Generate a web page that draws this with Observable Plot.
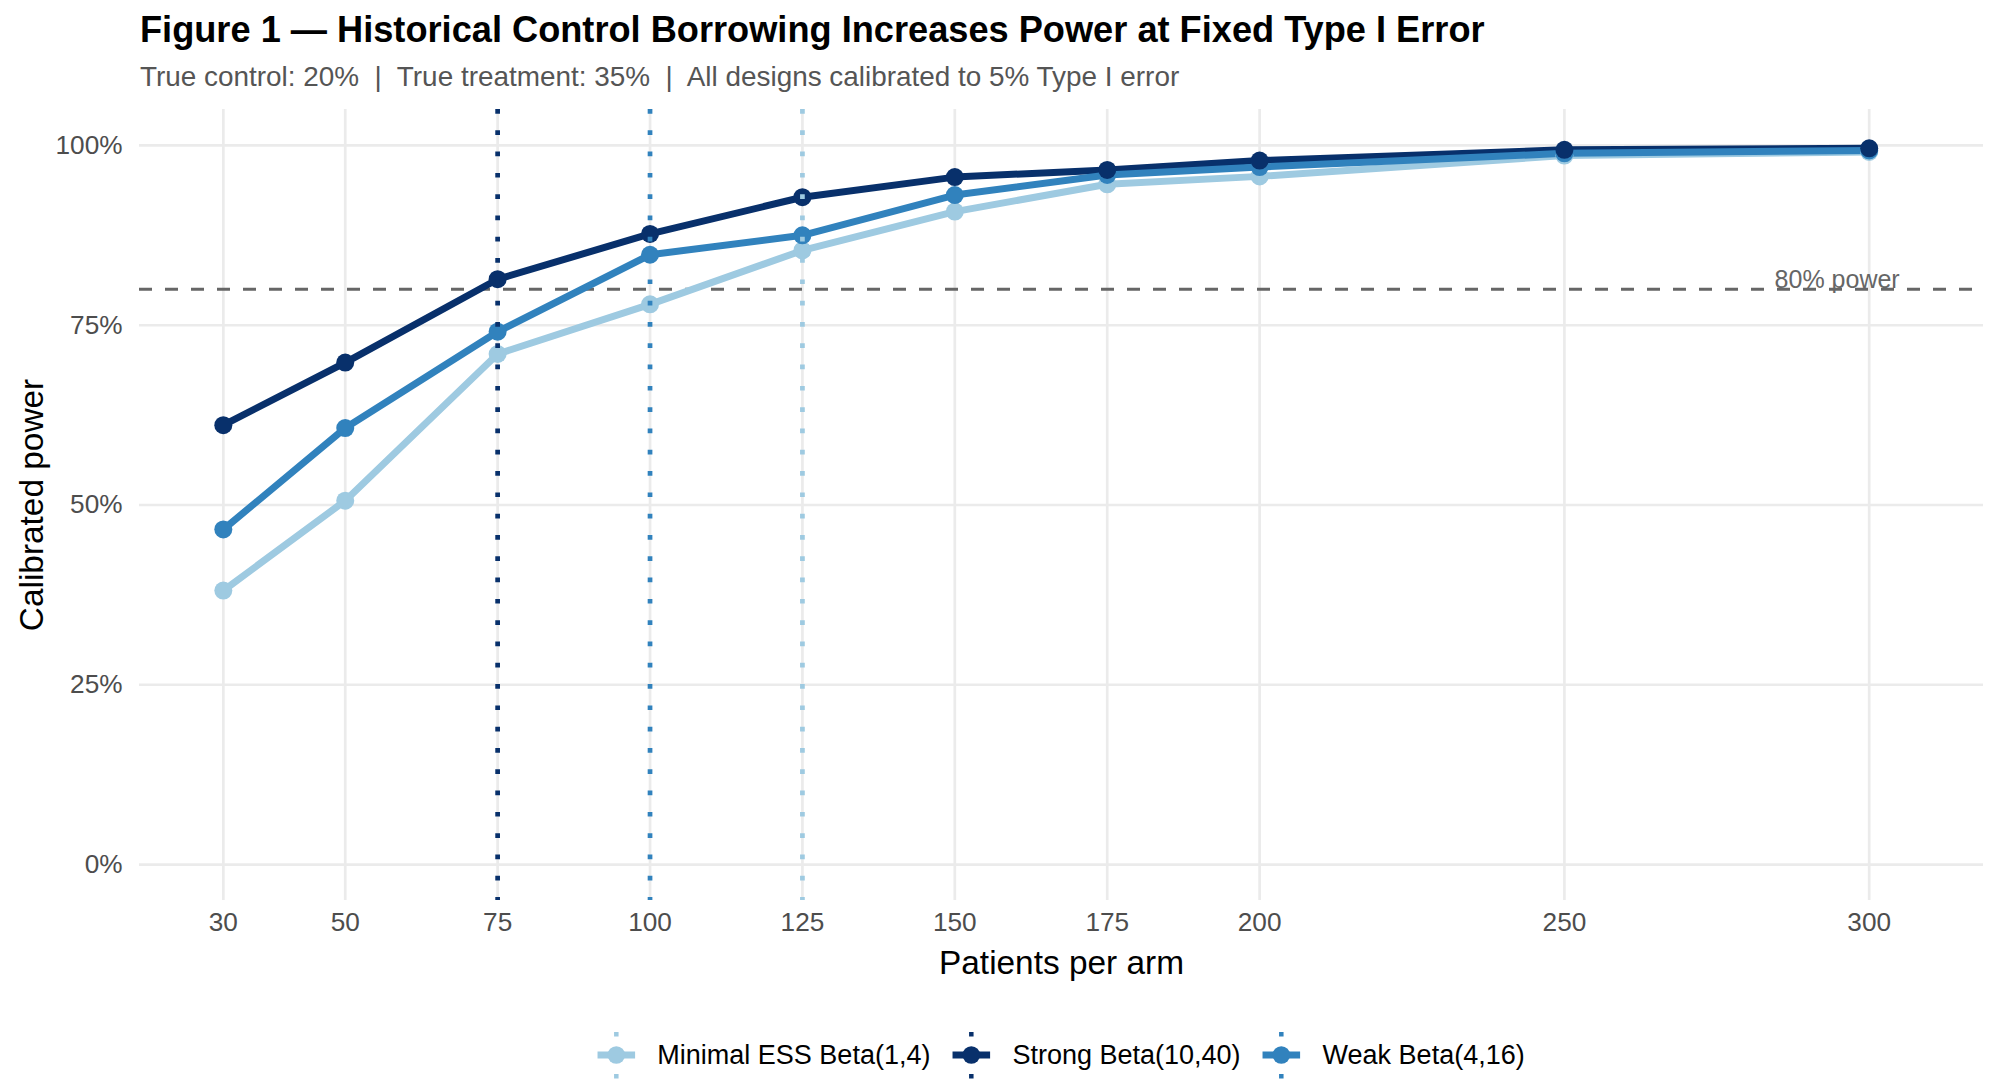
<!DOCTYPE html>
<html><head><meta charset="utf-8">
<script src="https://cdn.jsdelivr.net/npm/d3@7"></script>
<script src="https://cdn.jsdelivr.net/npm/@observablehq/plot@0.6"></script>
<style>
html,body{margin:0;padding:0;background:#fff;}
#wrap{position:relative;width:2000px;height:1090px;overflow:hidden;font-family:"Liberation Sans",Arial,Helvetica,sans-serif;background:#fff;}
#title{position:absolute;left:140px;top:12px;font-size:36.2px;font-weight:bold;line-height:1;color:#000;white-space:nowrap;}
#subtitle{position:absolute;left:140px;top:63px;font-size:27.9px;line-height:1;color:#555;white-space:pre;}
#chart{position:absolute;left:0;top:100px;}
#legend{position:absolute;top:1027px;left:1061px;transform:translateX(-50%);display:flex;align-items:center;height:56px;white-space:nowrap;}
.item{display:flex;align-items:center;}
.item + .item{margin-left:22px;}
.item svg{display:block;}
.lab{margin-left:22px;font-size:27px;color:#000;}
</style></head><body>
<div id="wrap">
  <div id="title"></div>
  <div id="subtitle"></div>
  <div id="chart"></div>
  <div id="legend"></div>
</div>
<script>
// ---- data ----
const sampleSizes = [30, 50, 75, 100, 125, 150, 175, 200, 250, 300];
const priorLabels = ["Minimal ESS Beta(1,4)", "Strong Beta(10,40)", "Weak Beta(4,16)"];
const powerMinimal = [0.381, 0.506, 0.710, 0.779, 0.854, 0.908, 0.946, 0.957, 0.986, 0.991];
const powerStrong  = [0.611, 0.698, 0.814, 0.877, 0.928, 0.956, 0.966, 0.979, 0.994, 0.996];
const powerWeak    = [0.466, 0.607, 0.741, 0.848, 0.875, 0.931, 0.959, 0.970, 0.989, 0.993];
const n80 = [125, 75, 100]; // n per arm marked for each prior
const priorColors = ["#9ECAE1", "#08306B", "#3182BD"];
const yTicks = [0, 0.25, 0.5, 0.75, 1];
const yTickLabels = ["0%", "25%", "50%", "75%", "100%"];
const powerTarget = 0.8;
const targetLabel = "80% power";
const targetLabelN = 305;
const titleText = "Figure 1 \u2014 Historical Control Borrowing Increases Power at Fixed Type I Error";
const subtitleText = "True control: 20%  |  True treatment: 35%  |  All designs calibrated to 5% Type I error";
const xTitle = "Patients per arm";
const yTitle = "Calibrated power";

// ---- derived tables ----
const seriesValues = [powerMinimal, powerStrong, powerWeak];
const rows = priorLabels.flatMap((p, i) => sampleSizes.map((n, j) => ({prior: p, n, power: seriesValues[i][j]})));
const thresholds = priorLabels.map((p, i) => ({prior: p, n: n80[i]}));
const pointOrder = [priorLabels[0], priorLabels[2], priorLabels[1]];
const annotation = [{n: targetLabelN, power: powerTarget, label: targetLabel}];

const xLo = d3.min(sampleSizes), xHi = Math.max(d3.max(sampleSizes), targetLabelN);
const xPad = 0.05 * (xHi - xLo);
const yLo = d3.min(yTicks), yHi = d3.max(yTicks);
const yPad = 0.05 * (yHi - yLo);

document.getElementById("title").textContent = titleText;
document.getElementById("subtitle").textContent = subtitleText;

const gridStyle = {stroke: "#EBEBEB", strokeOpacity: 1, strokeWidth: 2.7};

const chart = Plot.plot({
  width: 2000,
  height: 890,
  marginLeft: 139,
  marginRight: 17,
  marginTop: 9,
  marginBottom: 90,
  style: {fontFamily: "'Liberation Sans', Arial, Helvetica, sans-serif", background: "transparent", overflow: "visible", color: "#000"},
  x: {type: "linear", domain: [xLo - xPad, xHi + xPad]},
  y: {type: "linear", domain: [yLo - yPad, yHi + yPad]},
  color: {domain: priorLabels, range: priorColors},
  marks: [
    Plot.gridX(sampleSizes, gridStyle),
    Plot.gridY(yTicks, gridStyle),
    Plot.axisX(sampleSizes, {tickSize: 0, tickPadding: 12, fontSize: 26.2, fill: "#4D4D4D", label: null}),
    Plot.axisY(yTicks, {tickSize: 0, tickPadding: 17, fontSize: 26.2, fill: "#4D4D4D", label: null,
      tickFormat: d => yTickLabels[yTicks.indexOf(d)]}),
    Plot.ruleY([powerTarget], {stroke: "#666666", strokeWidth: 3.2, strokeDasharray: "13,13"}),
    Plot.text(annotation, {x: "n", y: "power", text: "label", textAnchor: "end", lineAnchor: "middle", dy: -9, fontSize: 25, fill: "#666666"}),
    Plot.line(rows, {x: "n", y: "power", z: "prior", stroke: "prior", strokeWidth: 7, strokeLinejoin: "round", strokeLinecap: "butt"}),
    Plot.dot(rows, {x: "n", y: "power", fill: "prior", r: 9, sort: d => pointOrder.indexOf(d.prior)}),
    Plot.ruleX(thresholds, {x: "n", stroke: "prior", strokeWidth: 4.7, strokeDasharray: "4.7,16.6"}),
    Plot.text([xTitle], {text: d => d, frameAnchor: "bottom", dy: 63, textAnchor: "middle", lineAnchor: "middle", fontSize: 33.4, fill: "#000"}),
    Plot.text([yTitle], {text: d => d, frameAnchor: "left", dx: -107, rotate: -90, textAnchor: "middle", lineAnchor: "middle", fontSize: 33.4, fill: "#000"})
  ]
});
document.getElementById("chart").appendChild(chart);

// ---- legend (uses the chart's colour scale) ----
const color = chart.scale("color");
const legend = d3.select("#legend");
priorLabels.forEach(p => {
  const c = color.apply(p);
  const item = legend.append("div").attr("class", "item");
  const svg = item.append("svg").attr("width", 38).attr("height", 56);
  svg.append("line").attr("x1", 19).attr("x2", 19).attr("y1", 5).attr("y2", 53)
    .attr("stroke", c).attr("stroke-width", 4.5).attr("stroke-dasharray", "4.5,16.5");
  svg.append("line").attr("x1", 0).attr("x2", 38).attr("y1", 28).attr("y2", 28)
    .attr("stroke", c).attr("stroke-width", 7);
  svg.append("circle").attr("cx", 19).attr("cy", 28).attr("r", 8.8).attr("fill", c);
  item.append("span").attr("class", "lab").text(p);
});
</script>
</body></html>
